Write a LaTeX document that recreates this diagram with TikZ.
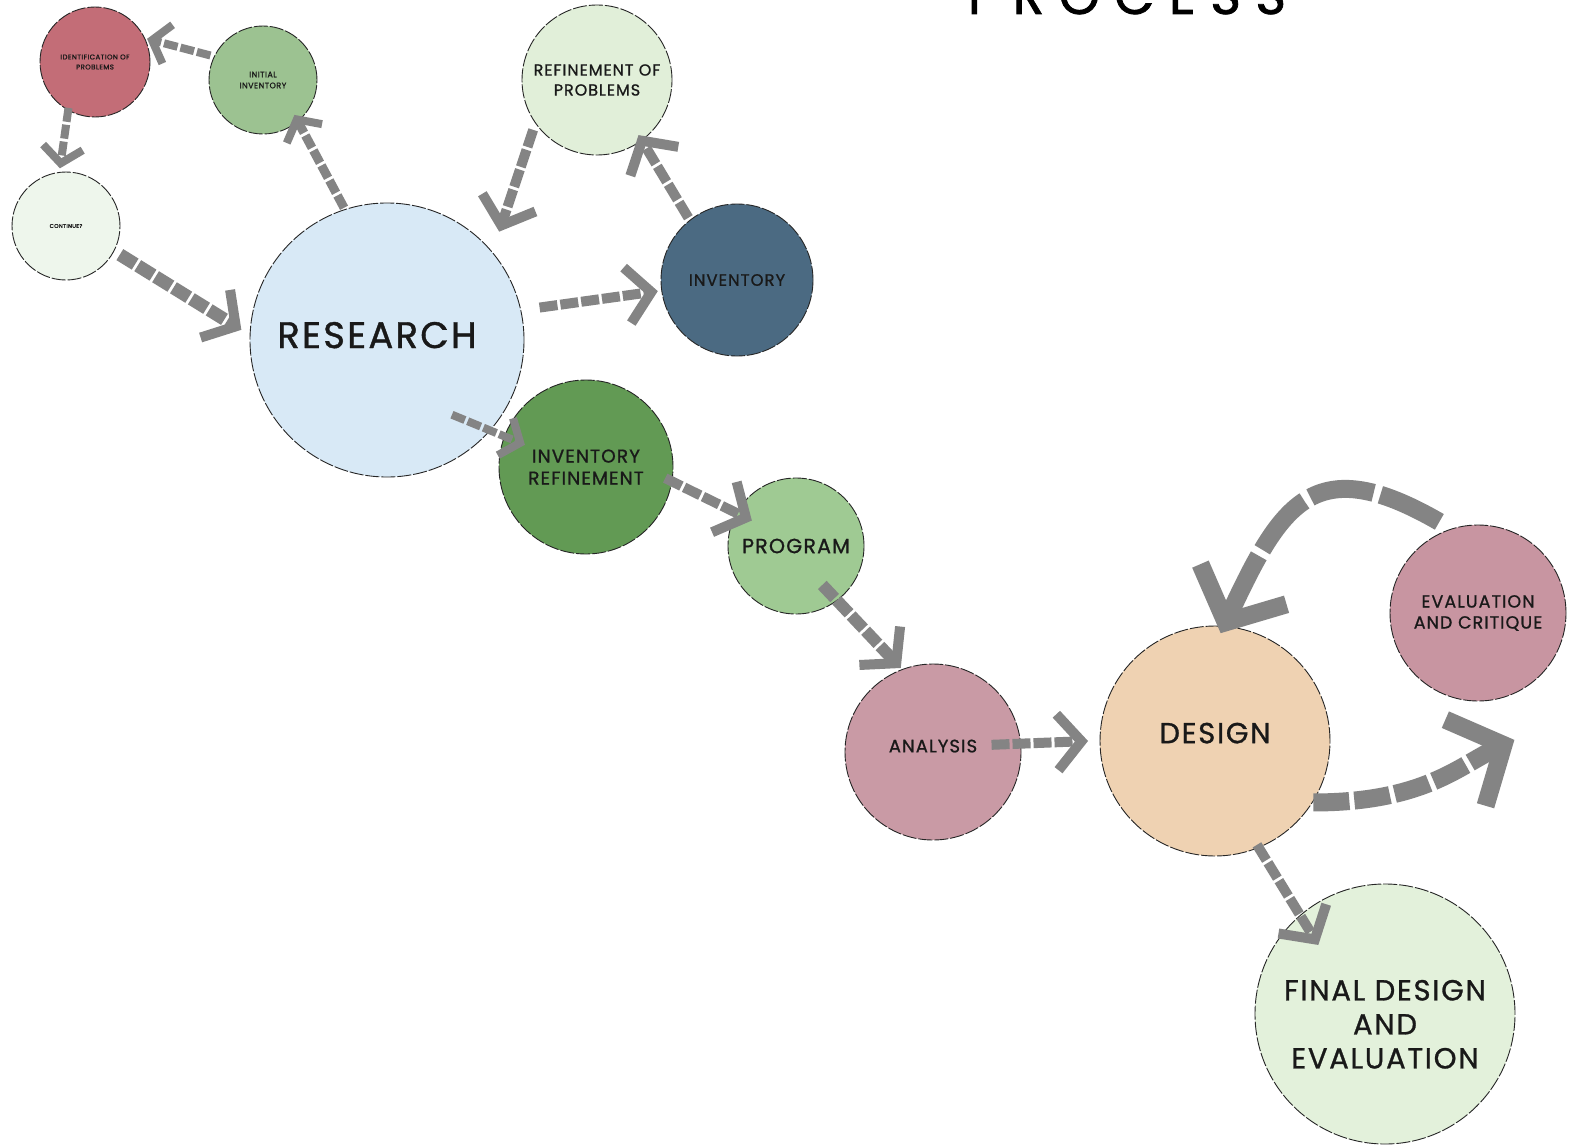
\documentclass[tikz,border=0pt]{standalone}
\usepackage{fontspec}
\setmainfont{Poppins}
\newfontfamily\labfont[LetterSpace=6,FakeBold=1]{Poppins}
\newfontfamily\titlefont[LetterSpace=28,FakeBold=1.5]{Poppins}
\usetikzlibrary{arrows.meta,calc}
\definecolor{identc}{HTML}{C36D77}
\definecolor{initc}{HTML}{9CC291}
\definecolor{contc}{HTML}{EEF6EC}
\definecolor{resc}{HTML}{D8E9F6}
\definecolor{refpc}{HTML}{E1EFD9}
\definecolor{invc}{HTML}{4B6A82}
\definecolor{invrc}{HTML}{629A54}
\definecolor{progc}{HTML}{9FCA93}
\definecolor{analc}{HTML}{C99AA5}
\definecolor{desc}{HTML}{EFD2B2}
\definecolor{evalc}{HTML}{C895A1}
\definecolor{finc}{HTML}{E3F1DB}
\definecolor{arrowc}{HTML}{848484}
\newcommand\lf[2]{\labfont\fontsize{#1}{#2}\selectfont}
\begin{document}
\begin{tikzpicture}[x=1pt,y=-1pt,
  bubble/.style={circle, draw=black!85, line width=0.9pt, dash pattern=on 14pt off 2pt,
    inner sep=0pt, align=center, text=black!90},
  flowS/.style={draw=arrowc, line width=8pt, dash pattern=on 14pt off 3pt,
    -{Straight Barb[length=16pt,width=40pt,line width=8pt]}},
  flowM/.style={draw=arrowc, line width=10pt, dash pattern=on 18pt off 3pt,
    -{Straight Barb[length=24pt,width=56pt,line width=10pt]}},
  flowL/.style={draw=arrowc, line width=18pt,
    -{Straight Barb[length=42pt,width=95pt,line width=18pt]}}
]
\useasboundingbox (0,0) rectangle (1579,1145);
\clip (0,0) rectangle (1579,1145);
\fill[white] (0,0) rectangle (1579,1145);

% title (cut at top edge)
\node[anchor=base, font=\titlefont\fontsize{52}{52}\selectfont, inner sep=0pt] (title) at (1127,14) {PROCESS};

% circles
\node[bubble, fill=identc, minimum size=110pt, font=\lf{7}{10}] (ident) at (95,62) {IDENTIFICATION OF\\PROBLEMS};
\node[bubble, fill=initc, minimum size=108pt, font=\lf{8}{11}] (init) at (263,80) {INITIAL\\INVENTORY};
\node[bubble, fill=contc, minimum size=108pt, font=\lf{5.5}{7}] (cont) at (66,226) {CONTINUE?};
\node[bubble, fill=resc, minimum size=274pt, font=\lf{37}{40}] (research) at (387,340) {\raisebox{10pt}{RESEARCH}\hspace{20pt}};
\node[bubble, fill=refpc, minimum size=150pt, font=\lf{16}{20}] (refprob) at (597,80) {REFINEMENT OF\\PROBLEMS};
\node[bubble, fill=invc, minimum size=152pt, font=\lf{16.5}{18}] (inv) at (737,280) {INVENTORY};
\node[bubble, fill=invrc, minimum size=174pt, font=\lf{18.5}{22}] (invref) at (586,467) {INVENTORY\\REFINEMENT};
\node[bubble, fill=progc, minimum size=136pt, font=\lf{20.5}{22}] (prog) at (796,546) {PROGRAM};
\node[bubble, fill=analc, minimum size=176pt, font=\lf{18}{20}] (anal) at (933,752) {ANALYSIS\\[-8pt]\mbox{}};
\node[bubble, fill=desc, minimum size=230pt, font=\lf{29}{30}] (design) at (1215,741) {DESIGN\\[-14pt]\mbox{}};
\node[bubble, fill=evalc, minimum size=176pt, font=\lf{17.5}{21}] (eval) at (1478,613) {EVALUATION\\AND CRITIQUE};
\node[bubble, fill=finc, minimum size=260pt, font=\lf{29}{34}] (final) at (1385,1014) {\mbox{}\\[7pt]FINAL DESIGN\\AND\\EVALUATION};

% connectors
\draw[flowS] ($(init)+(155:58pt)$) -- ($(ident)+(24:57pt)$);
\draw[flowS] ($(ident)+(240:53pt)$) -- ($(cont)+(96:58pt)$);
\draw[flowS, line width=9pt] ($(research)+(108:139pt)$) -- ($(init)+(-48:47pt)$);
\draw[flowM, line width=13pt] ($(cont)+(-28:61pt)$) -- ($(research)+(176:146pt)$);
\draw[flowM] ($(refprob)+(218:81pt)$) -- ($(research)+(44:156pt)$);
\draw[flowM] ($(inv)+(128:79pt)$) -- ($(refprob)+(-53:69pt)$);
\draw[flowM] ($(research)+(12:156pt)$) -- ($(inv)+(188:80pt)$);
\draw[flowS] ($(research)+(-49:99pt)$) -- ($(invref)+(160:65pt)$);
\draw[flowM] ($(invref)+(-8:80pt)$) -- ($(prog)+(150:51pt)$);
\draw[flowM, line width=12pt] ($(prog)+(-56:47pt)$) -- ($(anal)+(111:90pt)$);
\draw[flowM] ($(anal)+(7:59pt)$) -- ($(design)+(180:127pt)$);
\draw[flowM] ($(design)+(-68:112pt)$) -- ($(final)+(134:96pt)$);

\coordinate (de-s) at ($(design)+(-32:116pt)$);
\coordinate (de-e) at ($(eval)+(-74:132pt)$);
\draw[flowL, dash pattern=on 36pt off 5pt] (de-s) .. controls ($(de-s)+(0:110pt)$) and ($(de-e)+(205:60pt)$) .. (de-e);
\coordinate (ed-s) at ($(eval)+(113:99pt)$);
\coordinate (ed-e) at ($(design)+(87:108pt)$);
\draw[flowL, dash pattern=on 65pt off 7pt] (ed-s) .. controls ($(ed-s)+(150:144pt)$) and ($(ed-e)+(65:144pt)$) .. (ed-e);
\end{tikzpicture}
\end{document}
